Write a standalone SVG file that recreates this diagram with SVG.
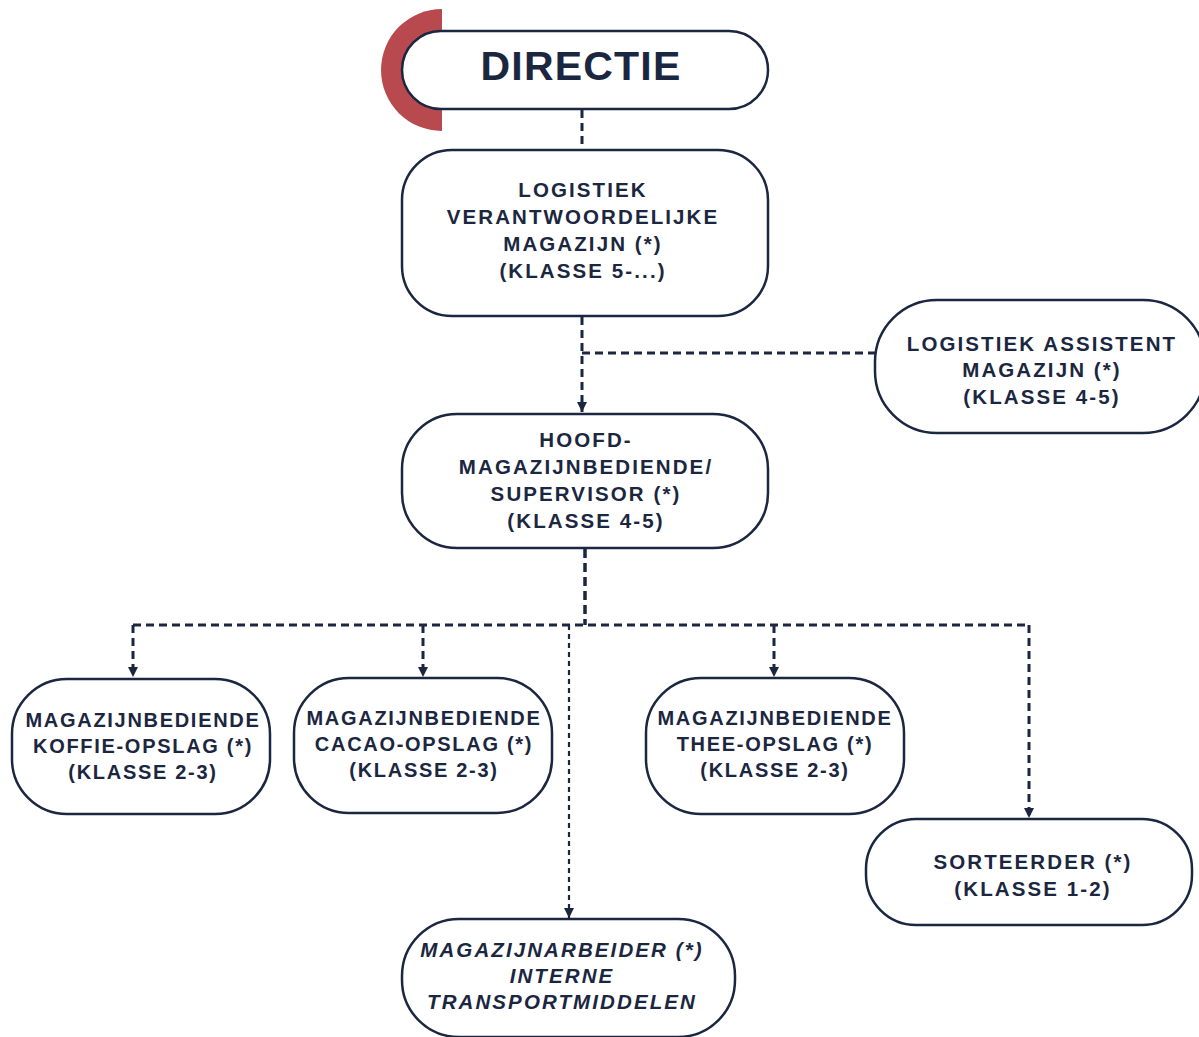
<svg xmlns="http://www.w3.org/2000/svg" width="1199" height="1037" viewBox="0 0 1199 1037">
<style>
.box{fill:#fff;stroke:#1b2640;stroke-width:2.5}
.t{font-family:"Liberation Sans",Arial,sans-serif;font-weight:bold;font-size:20.5px;letter-spacing:2.1px;fill:#1b2640;text-anchor:middle}
.s{font-size:20px;letter-spacing:1.7px}
.it{font-style:italic}
.c{fill:none;stroke:#1b2640;stroke-width:3;stroke-dasharray:8 5}
.c2{fill:none;stroke:#1b2640;stroke-width:2.2;stroke-dasharray:5 4}
.c3{fill:none;stroke:#1b2640;stroke-width:3.5;stroke-dasharray:9 5}
</style>
<defs>
<marker id="a" viewBox="0 0 10 10" refX="10" refY="5" markerWidth="10" markerHeight="10" markerUnits="userSpaceOnUse" orient="auto">
<path d="M0,0 L10,5 L0,10 Z" fill="#1b2640"/>
</marker>
</defs>
<g id="connectors">
<path class="c" d="M582,110 V150"/>
<path class="c" d="M582,317 V412" marker-end="url(#a)"/>
<path class="c" d="M582,353 H875"/>
<path class="c3" d="M585,549 V625"/>
<path class="c" d="M133,625 H1029"/>
<path class="c" d="M133,625 V677" marker-end="url(#a)"/>
<path class="c" d="M423,625 V677" marker-end="url(#a)"/>
<path class="c" d="M774,625 V677" marker-end="url(#a)"/>
<path class="c" d="M1029,625 V818" marker-end="url(#a)"/>
<path class="c2" d="M569,625 V918" marker-end="url(#a)"/>
</g>
<g id="directie">
<path d="M442,9 A61,61 0 0 0 442,131 Z" fill="#b84a4f"/>
<rect class="box" x="402" y="31" width="366" height="78" rx="39"/>
<text class="t" x="581" y="80" style="font-size:41px;letter-spacing:1.2px">DIRECTIE</text>
</g>
<g id="logistiek-verantwoordelijke">
<rect class="box" x="402" y="150" width="366" height="166" rx="50"/>
<text class="t" x="583" y="197">LOGISTIEK</text>
<text class="t" x="583" y="224">VERANTWOORDELIJKE</text>
<text class="t" x="583" y="251">MAGAZIJN (*)</text>
<text class="t" x="583" y="278">(KLASSE 5-...)</text>
</g>
<g id="logistiek-assistent">
<rect class="box" x="875" y="300" width="330" height="133" rx="62"/>
<text class="t" x="1042" y="351">LOGISTIEK ASSISTENT</text>
<text class="t" x="1042" y="377">MAGAZIJN (*)</text>
<text class="t" x="1042" y="404">(KLASSE 4-5)</text>
</g>
<g id="hoofd-magazijnbediende">
<rect class="box" x="402" y="414" width="366" height="134" rx="55"/>
<text class="t" x="586" y="447">HOOFD-</text>
<text class="t" x="586" y="474">MAGAZIJNBEDIENDE/</text>
<text class="t" x="586" y="501">SUPERVISOR (*)</text>
<text class="t" x="586" y="528">(KLASSE 4-5)</text>
</g>
<g id="koffie">
<rect class="box" x="12" y="679" width="258" height="135" rx="55"/>
<text class="t s" x="143" y="727">MAGAZIJNBEDIENDE</text>
<text class="t s" x="143" y="753">KOFFIE-OPSLAG (*)</text>
<text class="t s" x="143" y="779">(KLASSE 2-3)</text>
</g>
<g id="cacao">
<rect class="box" x="294" y="678" width="258" height="135" rx="55"/>
<text class="t s" x="424" y="725">MAGAZIJNBEDIENDE</text>
<text class="t s" x="424" y="751">CACAO-OPSLAG (*)</text>
<text class="t s" x="424" y="777">(KLASSE 2-3)</text>
</g>
<g id="thee">
<rect class="box" x="646" y="678" width="258" height="136" rx="55"/>
<text class="t s" x="775" y="725">MAGAZIJNBEDIENDE</text>
<text class="t s" x="775" y="751">THEE-OPSLAG (*)</text>
<text class="t s" x="775" y="777">(KLASSE 2-3)</text>
</g>
<g id="sorteerder">
<rect class="box" x="866" y="819" width="326" height="106" rx="50"/>
<text class="t" x="1033" y="869">SORTEERDER (*)</text>
<text class="t" x="1033" y="896">(KLASSE 1-2)</text>
</g>
<g id="magazijnarbeider">
<rect class="box" x="402" y="919" width="333" height="118" rx="57"/>
<text class="t it" x="562" y="957">MAGAZIJNARBEIDER (*)</text>
<text class="t it" x="562" y="983">INTERNE</text>
<text class="t it" x="562" y="1009">TRANSPORTMIDDELEN</text>
</g>
</svg>
